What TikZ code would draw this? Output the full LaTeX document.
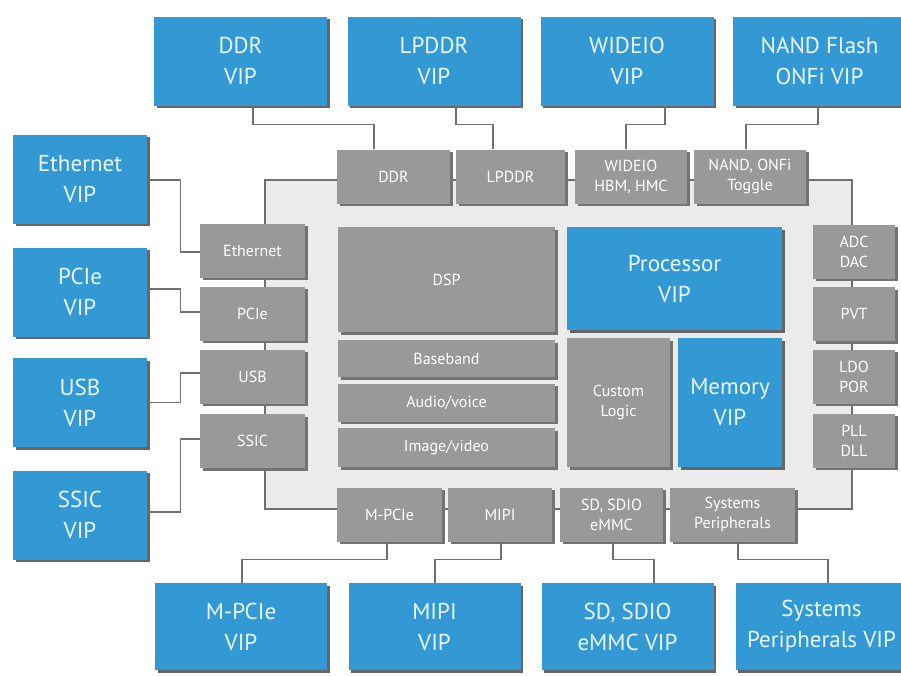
\documentclass[tikz,border=0pt]{standalone}
\usepackage{fontspec}
\setmainfont{PT Sans}
\usetikzlibrary{shadows}
\definecolor{vipblue}{HTML}{3399D5}
\definecolor{blkgray}{HTML}{999999}
\definecolor{socgray}{HTML}{EBEBEB}
\definecolor{wiregray}{HTML}{707070}
\definecolor{viptext}{HTML}{EAF7FF}

\begin{document}
\begin{tikzpicture}[x=1pt, y=-1pt,
	vip/.style={fill=vipblue, text=viptext, align=center, inner sep=0pt,
		minimum width=173pt, minimum height=89pt, font=\fontsize{23}{31}\selectfont,
		drop shadow={shadow xshift=2.5pt, shadow yshift=-2.5pt, fill=black!60, opacity=1}},
	blk/.style={fill=blkgray, text=white, align=center, inner sep=0pt,
		minimum height=54pt, font=\fontsize{16}{20}\selectfont,
		drop shadow={shadow xshift=2.5pt, shadow yshift=-2.5pt, fill=black!55, opacity=1}},
	wire/.style={draw=wiregray, line width=1.3pt}]
	\useasboundingbox (0,0) rectangle (901,675);

	\draw [wire, fill=socgray] (265,180) rectangle (852,509);

	\draw (240.5,61) node[vip] (ddrvip) {DDR\\VIP} ;
	\draw (434,61) node[vip] (lpddrvip) {LPDDR\\VIP} ;
	\draw (627,61) node[vip] (wideiovip) {WIDEIO\\VIP} ;
	\draw (819.5,61) node[vip] (nandvip) {NAND Flash\\ONFi VIP} ;

	\draw (80,179) node[vip, minimum width=134pt] (ethvip) {Ethernet\\VIP} ;
	\draw (80,292) node[vip, minimum width=134pt] (pcievip) {PCIe\\VIP} ;
	\draw (80,402.5) node[vip, minimum width=134pt] (usbvip) {USB\\VIP} ;
	\draw (80,515) node[vip, minimum width=134pt] (ssicvip) {SSIC\\VIP} ;

	\draw (241,626.5) node[vip, minimum width=172pt, minimum height=87pt] (mpcievip) {M-PCIe\\VIP} ;
	\draw (434.5,626.5) node[vip, minimum width=172pt, minimum height=87pt] (mipivip) {MIPI\\VIP} ;
	\draw (627.5,626.5) node[vip, minimum width=172pt, minimum height=87pt] (sdvip) {SD, SDIO\\eMMC VIP} ;
	\draw (821.5,626.5) node[vip, minimum width=172pt, minimum height=87pt] (sysvip) {Systems\\Peripherals VIP} ;

	\draw (393.5,176.5) node[blk, minimum width=113pt] (ddr) {DDR} ;
	\draw (510.5,176.5) node[blk, minimum width=109pt] (lpddr) {LPDDR} ;
	\draw (631,176.5) node[blk, minimum width=112pt] (wideio) {WIDEIO\\HBM, HMC} ;
	\draw (750,176.5) node[blk, minimum width=112pt] (nand) {NAND, ONFi\\Toggle} ;

	\draw (252.5,250.5) node[blk, minimum width=105pt] (eth) {Ethernet} ;
	\draw (252.5,313.5) node[blk, minimum width=105pt] (pcie) {PCIe} ;
	\draw (252.5,376.5) node[blk, minimum width=105pt] (usb) {USB} ;
	\draw (252.5,441) node[blk, minimum width=105pt] (ssic) {SSIC} ;

	\draw (854,251.5) node[blk, minimum width=82pt] (adc) {ADC\\DAC} ;
	\draw (854,314) node[blk, minimum width=82pt] (pvt) {PVT} ;
	\draw (854,376.5) node[blk, minimum width=82pt] (ldo) {LDO\\POR} ;
	\draw (854,440.5) node[blk, minimum width=82pt] (pll) {PLL\\DLL} ;

	\draw (389.5,514.5) node[blk, minimum width=105pt] (mpcie) {M-PCIe} ;
	\draw (500,514.5) node[blk, minimum width=104pt] (mipi) {MIPI} ;
	\draw (611.5,514.5) node[blk, minimum width=103pt] (sdio) {SD, SDIO\\eMMC} ;
	\draw (732.5,514.5) node[blk, minimum width=125pt] (sysper) {Systems\\Peripherals} ;

	\draw (446.5,279.5) node[blk, minimum width=217pt, minimum height=105pt] (dsp) {DSP} ;
	\draw (446.5,358.5) node[blk, minimum width=217pt, minimum height=37pt] (baseband) {Baseband} ;
	\draw (446.5,402.5) node[blk, minimum width=217pt, minimum height=38pt] (audio) {Audio/voice} ;
	\draw (446.5,447.5) node[blk, minimum width=217pt, minimum height=39pt] (image) {Image/video} ;
	\draw (674.5,278.5) node[vip, minimum width=215pt, minimum height=103pt] (proc) {Processor\\VIP} ;
	\draw (618.5,402.5) node[blk, minimum width=103pt, minimum height=129pt] (custom) {Custom\\Logic} ;
	\draw (730,402.5) node[vip, minimum width=104pt, minimum height=129pt] (mem) {Memory\\VIP} ;

	\draw [wire] ([xshift=12.5pt]ddrvip.south) -- ++(0,19) -| ([xshift=-19.5pt]ddr.north) ;
	\draw [wire] ([xshift=22pt]lpddrvip.south) -- ++(0,19) -| ([xshift=-17.5pt]lpddr.north) ;
	\draw [wire] ([xshift=38pt]wideiovip.south) -- ++(0,19) -| ([xshift=-5pt]wideio.north) ;
	\draw [wire] ([xshift=-1.5pt]nandvip.south) -- ++(0,19) -| ([xshift=-4pt]nand.north) ;

	\draw [wire] ([yshift=-1pt]ethvip.east) -- ++(33,0) |- ([yshift=-1.5pt]eth.west) ;
	\draw [wire] ([yshift=3pt]pcievip.east) -- ++(33,0) |- ([yshift=1.5pt]pcie.west) ;
	\draw [wire] (usbvip.east) -- ++(33,0) |- ([yshift=3.5pt]usb.west) ;
	\draw [wire] ([yshift=3pt]ssicvip.east) -- ++(33,0) |- ([yshift=2pt]ssic.west) ;

	\draw [wire] ([xshift=1pt]mpcievip.north) -- ++(0,-23) -| ([xshift=-2.5pt]mpcie.south) ;
	\draw [wire] ([xshift=0.5pt]mipivip.north) -- ++(0,-23) -| ([xshift=1pt]mipi.south) ;
	\draw [wire] ([xshift=1.5pt]sdio.south) -- ++(0,18) -| ([xshift=26.5pt]sdvip.north) ;
	\draw [wire] ([xshift=5.5pt]sysper.south) -- ++(0,18) -| ([xshift=6.5pt]sysvip.north) ;
\end{tikzpicture}
\end{document}
